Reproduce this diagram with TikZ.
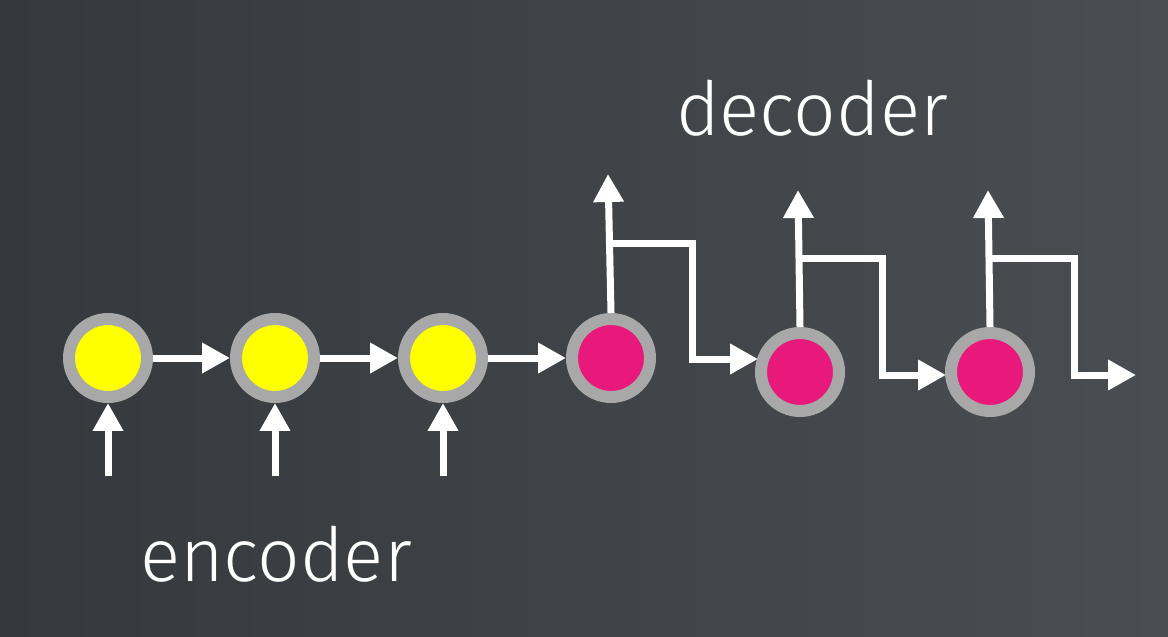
\documentclass[tikz,border=0pt]{standalone}
\usepackage{fontspec}
\setmainfont{Fira Sans Light}
\usetikzlibrary{arrows.meta}
\definecolor{bgL}{HTML}{35383C}
\definecolor{bgR}{HTML}{4A4D52}
\definecolor{ring}{HTML}{A8A8A8}
\definecolor{pinkc}{HTML}{E8197A}
\definecolor{yel}{HTML}{FFFF00}
\begin{document}
\begin{tikzpicture}[x=0.02cm,y=-0.02cm,
  cell/.style={circle,draw=ring,line width=0.24cm,minimum size=1.56cm,inner sep=0pt},
  enc/.style={cell,fill=yel},
  dec/.style={cell,fill=pinkc},
  arr/.style={draw=white,line width=0.14cm,-{Triangle[length=0.56cm,width=0.58cm]}},
  lbl/.style={text=white,font=\fontsize{42.5}{50}\selectfont,inner sep=0pt}]
\shade[left color=bgL,right color=bgR] (0,0) rectangle (1168,636);
\useasboundingbox (0,0) rectangle (1168,636);
% encoder
\node[enc] (e1) at (108,358) {};
\node[enc] (e2) at (275,358) {};
\node[enc] (e3) at (443,358) {};
% decoder
\node[dec] (d1) at (611,358) {};
\node[dec] (d2) at (800,372) {};
\node[dec] (d3) at (990,372) {};
% inputs
\coordinate (i1) at (108,476);
\coordinate (i2) at (275,476);
\coordinate (i3) at (443,476);
\draw[arr] (i1) -- (e1.south);
\draw[arr] (i2) -- (e2.south);
\draw[arr] (i3) -- (e3.south);
% chain
\draw[arr] (e1.east) -- (e2.west);
\draw[arr] (e2.east) -- (e3.west);
\draw[arr] (e3.east) -- (d1.west);
% decoder outputs
\coordinate (o1) at (608,174);
\coordinate (o2) at (798,190);
\coordinate (o3) at (988,190);
\draw[arr] (d1.north) -- (o1);
\draw[arr] (d2.north) -- (o2);
\draw[arr] (d3.north) -- (o3);
% feedback wires
\coordinate (b1) at (608,243);
\coordinate (c1) at (692,359);
\coordinate (t1) at (758,359);
\coordinate (b2) at (798,258);
\coordinate (c2) at (882,375);
\coordinate (t2) at (946,375);
\coordinate (b3) at (988,258);
\coordinate (c3) at (1074,375);
\coordinate (t3) at (1136,375);
\draw[arr] (b1) -| (c1) -- (t1);
\draw[arr] (b2) -| (c2) -- (t2);
\draw[arr] (b3) -| (c3) -- (t3);
% labels
\node[lbl,anchor=base] (dl) at (812,135) {decoder};
\node[lbl,anchor=base] (el) at (276,581) {encoder};
\end{tikzpicture}
\end{document}
